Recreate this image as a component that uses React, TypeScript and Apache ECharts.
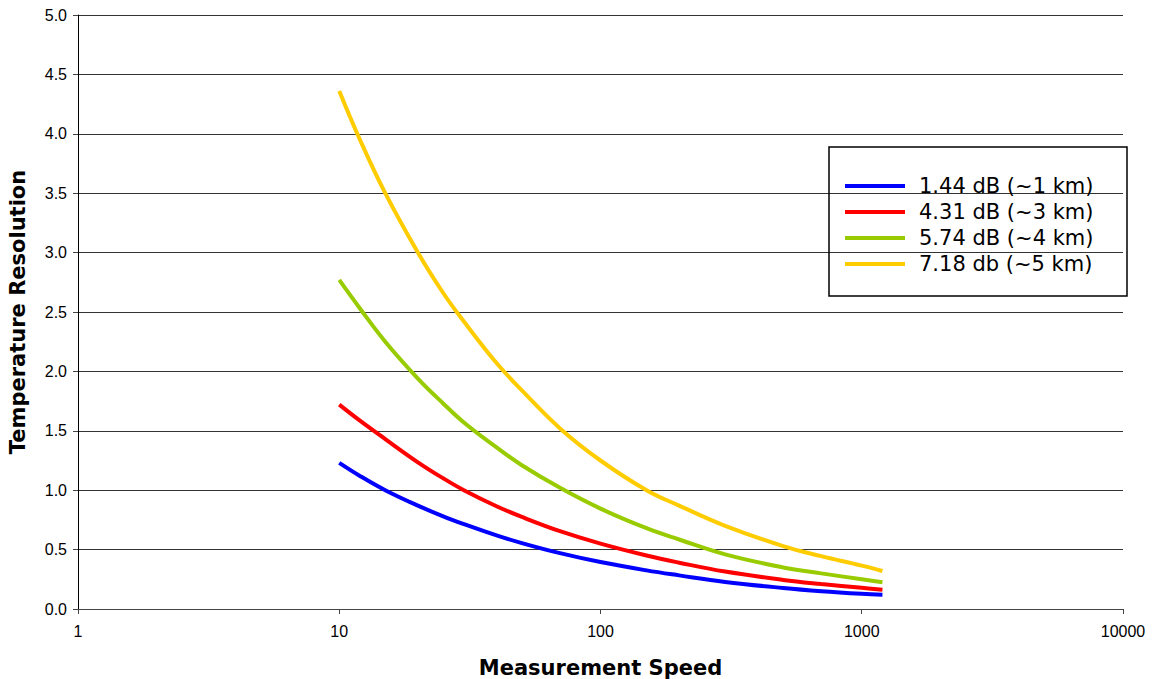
import React, { useEffect, useRef } from "react";
import * as echarts from "echarts";

const speeds = [10, 12, 15, 20, 25, 30, 40, 50, 70, 100, 150, 200, 300, 500, 700, 1000, 1200];
const blue1km = [1.23, 1.12, 1.0, 0.87, 0.78, 0.715, 0.62, 0.555, 0.47, 0.395, 0.325, 0.283, 0.228, 0.177, 0.15, 0.128, 0.12];
const red3km = [1.72, 1.585, 1.43, 1.235, 1.1, 1.0, 0.865, 0.775, 0.655, 0.55, 0.45, 0.39, 0.315, 0.245, 0.21, 0.178, 0.162];
const green4km = [2.77, 2.53, 2.25, 1.94, 1.73, 1.57, 1.36, 1.21, 1.02, 0.845, 0.68, 0.585, 0.46, 0.35, 0.3, 0.25, 0.225];
const yellow5km = [4.36, 3.95, 3.5, 3.0, 2.66, 2.42, 2.07, 1.84, 1.52, 1.25, 1.0, 0.87, 0.7, 0.53, 0.445, 0.365, 0.32];
const seriesNames = ["1.44 dB (~1 km)", "4.31 dB (~3 km)", "5.74 dB (~4 km)", "7.18 db (~5 km)"];
const seriesColors = ["#0000FF", "#FF0000", "#99CC00", "#FFCC00"];
const yTicks = ["0.0", "0.5", "1.0", "1.5", "2.0", "2.5", "3.0", "3.5", "4.0", "4.5", "5.0"];

export default function App() {
  const ref = useRef<HTMLDivElement>(null);
  useEffect(() => {
    if (!ref.current) return;
    const chart = echarts.init(ref.current, null, { renderer: "svg" });
    const values = [blue1km, red3km, green4km, yellow5km];
    chart.setOption({
      animation: false,
      backgroundColor: "#ffffff",
      grid: { left: 78, right: 31, top: 15, bottom: 70, outerBoundsMode: "none", containLabel: false },
      xAxis: {
        type: "log",
        logBase: 10,
        min: 1,
        max: 10000,
        name: "Measurement Speed",
        nameLocation: "middle",
        nameGap: 48,
        nameTextStyle: { fontFamily: "DejaVu Sans", fontWeight: "bold", fontSize: 21, color: "#000" },
        axisLine: { lineStyle: { color: "#444", width: 1 } },
        axisTick: { show: true, length: 5, lineStyle: { color: "#444" } },
        minorTick: { show: false },
        splitLine: { show: false },
        axisLabel: {
          fontFamily: "Liberation Sans",
          fontSize: 16,
          color: "#000",
          margin: 14,
          formatter: (v: number) => String(Math.round(v)),
        },
      },
      yAxis: {
        type: "value",
        min: 0,
        max: 5,
        interval: 0.5,
        name: "Temperature Resolution",
        nameLocation: "middle",
        nameGap: 50,
        nameRotate: 90,
        nameTextStyle: { fontFamily: "DejaVu Sans", fontWeight: "bold", fontSize: 21, color: "#000" },
        axisLine: { show: true, lineStyle: { color: "#000", width: 1 } },
        axisTick: { show: true, length: 5, lineStyle: { color: "#444" } },
        splitLine: { show: true, lineStyle: { color: "#333", width: 1 } },
        axisLabel: {
          fontFamily: "Liberation Sans",
          fontSize: 16,
          color: "#000",
          margin: 11,
          formatter: (v: number) => yTicks[Math.round(v * 2)] ?? v.toFixed(1),
        },
      },
      legend: {
        orient: "vertical",
        left: 845,
        top: 173,
        padding: 0,
        itemGap: 0,
        itemWidth: 60,
        itemHeight: 4,
        icon: "rect",
        data: seriesNames,
        textStyle: {
          fontFamily: "DejaVu Sans",
          fontSize: 21,
          color: "#000",
          lineHeight: 26,
          height: 26,
          padding: [0, 0, 0, 9],
        },
      },
      graphic: [
        {
          type: "rect",
          shape: { x: 829, y: 147, width: 298, height: 149 },
          style: { fill: "none", stroke: "#000", lineWidth: 1.5 },
          z: 100,
        },
      ],
      series: seriesNames.map((name, i) => ({
        name,
        type: "line",
        smooth: 0.4,
        showSymbol: false,
        symbol: "none",
        data: speeds.map((s, j) => [s, values[i][j]]),
        lineStyle: { color: seriesColors[i], width: 4 },
        itemStyle: { color: seriesColors[i] },
      })),
    });
    return () => chart.dispose();
  }, []);
  return <div ref={ref} style={{ position: "fixed", left: 0, top: 0, width: 1154, height: 679 }} />;
}
